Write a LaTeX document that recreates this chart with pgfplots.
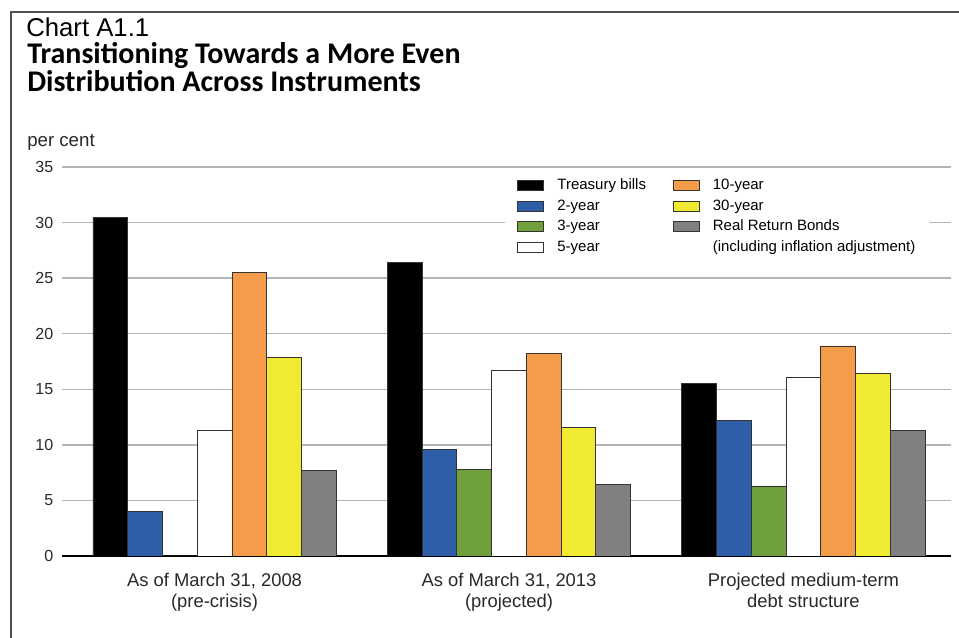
\documentclass[border=0pt]{standalone}
\usepackage{pgfplots}
\pgfplotsset{compat=1.18}
\usepackage{fontspec}
\setmainfont{Liberation Sans}
\newfontfamily\titlefont{Carlito}
\definecolor{c2y}{RGB}{46,94,168}
\definecolor{c3y}{RGB}{111,160,60}
\definecolor{c10y}{RGB}{245,156,75}
\definecolor{c30y}{RGB}{240,234,50}
\definecolor{crrb}{RGB}{128,128,128}
\definecolor{gridc}{RGB}{180,180,180}
\definecolor{framec}{RGB}{80,80,80}
\definecolor{txt}{RGB}{40,40,40}
\pgfplotsset{sw/.style={legend image code/.code={\draw[fill=#1,draw=black!80,line width=0.6pt] (0pt,-3.75pt) rectangle (19.5pt,3.75pt);}}}
\begin{document}
\begin{tikzpicture}
\begin{scope}[x=0.75pt,y=0.75pt]
\useasboundingbox (0,0) rectangle (959,638);
\draw[framec, line width=1.5pt] (10.5,0) -- (10.5,625.5) -- (959,625.5);
\node[anchor=base west, inner sep=0pt, text=black, font=\fontsize{19.3}{22}\selectfont] at (26,601) {Chart A1.1};
\node[anchor=base west, inner sep=0pt, font=\titlefont\bfseries\fontsize{22.5}{26}\selectfont] at (27,574) {Transitioning Towards a More Even};
\node[anchor=base west, inner sep=0pt, font=\titlefont\bfseries\fontsize{22.5}{26}\selectfont] at (27,546) {Distribution Across Instruments};
\node[anchor=base west, inner sep=0pt, text=txt, font=\fontsize{14}{16}\selectfont] at (27,491) {per cent};
\end{scope}
\begin{axis}[
  at={(46.5pt,61.5pt)}, anchor=south west,
  scale only axis, width=666.75pt, height=291.75pt,
  xmin=-0.518, xmax=2.501, ymin=0, ymax=35,
  bar width=0.118,
  axis x line*=bottom, axis y line*=left,
  y axis line style={draw=none},
  x axis line style={black, line width=1.1pt, -},
  ytick={0,5,...,35}, xtick={0,1,2},
  major tick length=0pt,
  ymajorgrids, grid style={gridc, line width=1.1pt},
  /pgf/number format/assume math mode=true,
  yticklabel style={font=\fontsize{12}{14}\selectfont, text=txt, xshift=-3pt},
  xticklabels={{As of March 31, 2008\\(pre-crisis)},{As of March 31, 2013\\(projected)},{Projected medium-term\\debt structure}},
  xticklabel style={align=center, font=\fontsize{13.8}{15.75}\selectfont, text=txt, yshift=-9pt},
  every axis plot/.append style={ybar, draw=black!80, line width=0.6pt},
  legend columns=2,
  legend style={at={(0.4983,0.9871)}, anchor=north west, draw=none, fill=white,
    inner xsep=9pt, inner ysep=3pt, font=\fontsize{11.25}{13}\selectfont, text=black,
    row sep=1.9pt,
    /tikz/every odd column/.append style={column sep=8pt},
    /tikz/every even column/.append style={column sep=18pt}},
  legend cell align=left,
]
\addplot[fill=black, bar shift=-0.354, forget plot] coordinates {(0,30.5) (1,26.4) (2,15.5)};
\addplot[fill=c2y, bar shift=-0.236, forget plot] coordinates {(0,4.0) (1,9.6) (2,12.2)};
\addplot[fill=c3y, bar shift=-0.118, forget plot] coordinates {(0,0) (1,7.8) (2,6.3)};
\addplot[fill=white, bar shift=0, forget plot] coordinates {(0,11.3) (1,16.7) (2,16.1)};
\addplot[fill=c10y, bar shift=0.118, forget plot] coordinates {(0,25.5) (1,18.2) (2,18.9)};
\addplot[fill=c30y, bar shift=0.236, forget plot] coordinates {(0,17.9) (1,11.6) (2,16.4)};
\addplot[fill=crrb, bar shift=0.354, forget plot] coordinates {(0,7.7) (1,6.4) (2,11.3)};
\addlegendimage{sw=black}\addlegendentry{Treasury bills}
\addlegendimage{sw=c10y}\addlegendentry{10-year}
\addlegendimage{sw=c2y}\addlegendentry{2-year}
\addlegendimage{sw=c30y}\addlegendentry{30-year}
\addlegendimage{sw=c3y}\addlegendentry{3-year}
\addlegendimage{sw=crrb}\addlegendentry{Real Return Bonds}
\addlegendimage{sw=white}\addlegendentry{5-year}
\addlegendimage{empty legend}\addlegendentry{(including inflation adjustment)}
\end{axis}
\end{tikzpicture}
\end{document}
